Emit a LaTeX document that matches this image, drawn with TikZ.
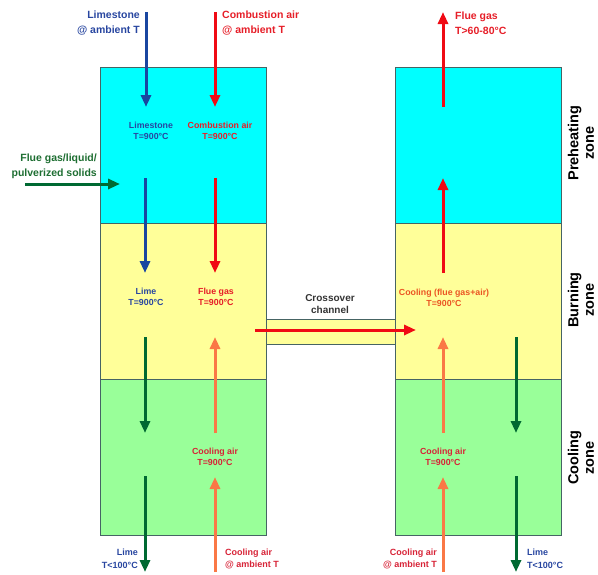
\documentclass[tikz,border=0pt]{standalone}
\usepackage{fontspec}
\setmainfont{Liberation Sans}
\usetikzlibrary{arrows.meta}
\definecolor{cyanz}{RGB}{0,255,255}
\definecolor{yellowz}{RGB}{255,255,153}
\definecolor{greenz}{RGB}{153,255,153}
\definecolor{edgez}{RGB}{70,100,100}
\definecolor{bluea}{RGB}{25,70,160}
\definecolor{bluet}{RGB}{40,70,160}
\definecolor{reda}{RGB}{240,10,20}
\definecolor{redt}{RGB}{230,30,40}
\definecolor{greena}{RGB}{0,105,50}
\definecolor{greent}{RGB}{30,110,50}
\definecolor{orangea}{RGB}{250,120,70}
\definecolor{oranget}{RGB}{235,85,35}
\definecolor{crimt}{RGB}{215,35,55}
\begin{document}
\begin{tikzpicture}[x=1pt,y=-1pt,
  zonebox/.style={draw=edgez,line width=0.8pt,inner sep=0,outer sep=0,minimum width=166pt,minimum height=156pt,anchor=north west},
  flow/.style={line width=3pt,-{Triangle[width=10pt,length=12pt]}},
  toplbl/.style={font=\fontsize{10.5}{15}\selectfont\bfseries,inner sep=0},
  inlbl/.style={font=\fontsize{8.8}{11}\selectfont\bfseries,inner sep=0,align=center},
  botlbl/.style={font=\fontsize{9}{12.5}\selectfont\bfseries,inner sep=0},
  zonelbl/.style={font=\fontsize{14.5}{15.5}\selectfont\bfseries,inner sep=0,align=center,rotate=90}]
\useasboundingbox (0,0) rectangle (598,574);
% crossover channel
\node (chan) [draw=edgez,line width=0.8pt,fill=yellowz,inner sep=0,minimum width=129pt,minimum height=25pt,anchor=north west] at (266,319) {};
% shafts
\node (lpre) [zonebox,fill=cyanz] at (100,67) {};
\node (lbur) [zonebox,fill=yellowz] at (100,223) {};
\node (lcoo) [zonebox,fill=greenz] at (100,379) {};
\node (rpre) [zonebox,fill=cyanz] at (395,67) {};
\node (rbur) [zonebox,fill=yellowz] at (395,223) {};
\node (rcoo) [zonebox,fill=greenz] at (395,379) {};
% coordinates
\foreach \n/\x/\y in {a1/146/12,a2/146/107,b1/215/12,b2/215/107,
  c1/145/178,c2/145/273,d1/215/178,d2/215/273,e1/25/184,e2/120/184,
  f1/145/337,f2/145/433,f3/145/476,f4/145/572,
  g1/215/433,g2/215/337,g3/215/572,g4/215/477,
  h1/255/330,h2/416/330,
  i1/443/107,i2/443/12,i3/443/273,i4/443/178,
  j1/443/433,j2/443/337,j3/443/572,j4/443/477,
  k1/516/337,k2/516/433,k3/516/476,k4/516/572}
  \coordinate (\n) at (\x,\y);
% arrows
\draw[flow,bluea] (a1) -- (a2);
\draw[flow,reda] (b1) -- (b2);
\draw[flow,bluea] (c1) -- (c2);
\draw[flow,reda] (d1) -- (d2);
\draw[flow,greena] (e1) -- (e2);
\draw[flow,greena] (f1) -- (f2);
\draw[flow,greena] (f3) -- (f4);
\draw[flow,orangea] (g1) -- (g2);
\draw[flow,orangea] (g3) -- (g4);
\draw[flow,reda] (h1) -- (h2);
\draw[flow,reda] (i1) -- (i2);
\draw[flow,reda] (i3) -- (i4);
\draw[flow,orangea] (j1) -- (j2);
\draw[flow,orangea] (j3) -- (j4);
\draw[flow,greena] (k1) -- (k2);
\draw[flow,greena] (k3) -- (k4);
% top labels
\node (tlime) [toplbl,bluet,align=right,anchor=east] at (140,23.5) {Limestone\\@ ambient T};
\node (tcomb) [toplbl,redt,align=left,anchor=west] at (222,23.5) {Combustion air\\@ ambient T};
\node (tflue) [toplbl,redt,align=left,anchor=west] at (455,23.5) {Flue gas\\T>60-80°C};
\node (tfeed) [toplbl,greent,align=right,anchor=east] at (97,166.5) {Flue gas/liquid/\\pulverized solids};
% inner labels
\node (ilime) [inlbl,bluet] at (151,130.5) {Limestone\\T=900°C};
\node (icomb) [inlbl,redt] at (220,130.5) {Combustion air\\T=900°C};
\node (ilime2) [inlbl,bluet] at (146,297) {Lime\\T=900°C};
\node (iflue) [inlbl,redt] at (216,297) {Flue gas\\T=900°C};
\node (icross) [inlbl,black!80,font=\fontsize{10}{12}\selectfont\bfseries] at (330,304) {Crossover\\channel};
\node (icool) [inlbl,oranget] at (444,297.5) {Cooling (flue gas+air)\\T=900°C};
\node (icair1) [inlbl,crimt] at (215,457) {Cooling air\\T=900°C};
\node (icair2) [inlbl,crimt] at (443,457) {Cooling air\\T=900°C};
% bottom labels
\node (blime1) [botlbl,bluet,align=right,anchor=east] at (138,559) {Lime\\T<100°C};
\node (bcair1) [botlbl,crimt,align=left,anchor=west] at (225,559) {Cooling air\\@ ambient T};
\node (bcair2) [botlbl,crimt,align=right,anchor=east] at (437,559) {Cooling air\\@ ambient T};
\node (blime2) [botlbl,bluet,align=left,anchor=west] at (527,559) {Lime\\T<100°C};
% zone labels
\node (zpre) [zonelbl] at (581,143) {Preheating\\zone};
\node (zbur) [zonelbl] at (581,300) {Burning\\zone};
\node (zcoo) [zonelbl] at (581,458) {Cooling\\zone};
\end{tikzpicture}
\end{document}
